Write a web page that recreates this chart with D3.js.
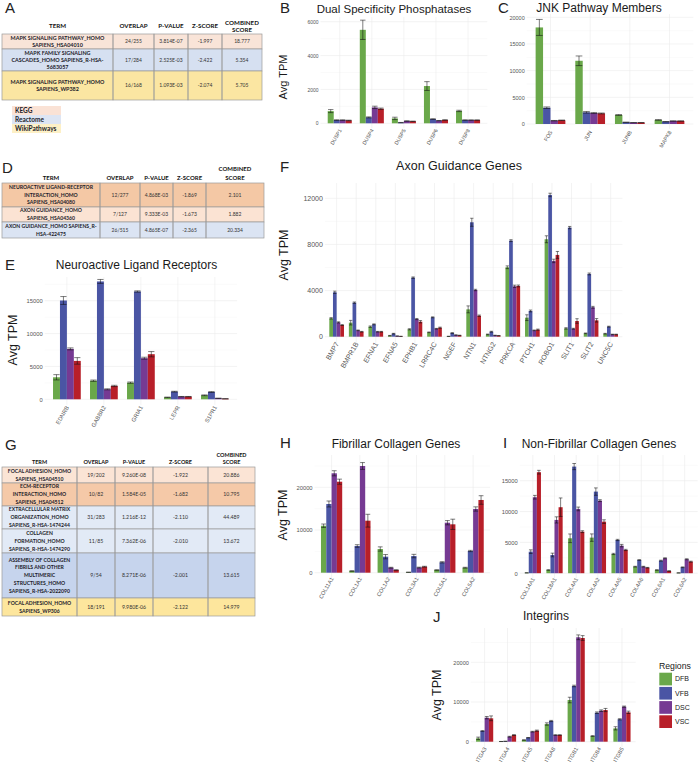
<!DOCTYPE html>
<html><head><meta charset="utf-8">
<script src="https://cdn.jsdelivr.net/npm/d3@7"></script>
<style>body{margin:0;background:#fff}svg{display:block}</style>
</head><body>
<svg id="c" width="699" height="764"></svg>
<script>
// ---------------- DATA ----------------
const regions = ["DFB", "VFB", "DSC", "VSC"];

// Table A
const tA_terms = [["MAPK SIGNALING PATHWAY_HOMO","SAPIENS_HSA04010"],["MAPK FAMILY SIGNALING","CASCADES_HOMO SAPIENS_R-HSA-","5683057"],["MAPK SIGNALING PATHWAY_HOMO","SAPIENS_WP382"]];
const tA_overlap = ["24/255","17/284","16/168"];
const tA_p = ["3.814E-07","2.525E-03","1.093E-03"];
const tA_z = ["-1.997","-2.422","-2.074"];
const tA_comb = ["18.777","5.354","5.705"];
const dbNames = ["KEGG","Reactome","WikiPathways"];

// Table D
const tD_terms = [["NEUROACTIVE LIGAND-RECEPTOR","INTERACTION_HOMO","SAPIENS_HSA04080"],["AXON GUIDANCE_HOMO","SAPIENS_HSA04360"],["AXON GUIDANCE_HOMO SAPIENS_R-","HSA-422475"]];
const tD_overlap = ["12/277","7/127","26/515"];
const tD_p = ["4.868E-03","9.333E-03","4.865E-07"];
const tD_z = ["-1.869","-1.673","-2.365"];
const tD_comb = ["2.101","1.882","20.334"];

// Table G
const tG_terms = [["FOCAL ADHESION_HOMO","SAPIENS_HSA04510"],["ECM-RECEPTOR","INTERACTION_HOMO","SAPIENS_HSA04512"],["EXTRACELLULAR MATRIX","ORGANIZATION_HOMO","SAPIENS_R-HSA-1474244"],["COLLAGEN","FORMATION_HOMO","SAPIENS_R-HSA-1474290"],["ASSEMBLY OF COLLAGEN","FIBRILS AND OTHER","MULTIMERIC","STRUCTURES_HOMO","SAPIENS_R-HSA-2022090"],["FOCAL ADHESION_HOMO","SAPIENS_WP306"]];
const tG_overlap = ["19/202","10/82","31/283","11/85","9/54","18/191"];
const tG_p = ["9.260E-08","1.584E-05","1.216E-12","7.362E-06","8.271E-06","9.980E-06"];
const tG_z = ["-1.922","-1.682","-2.110","-2.010","-2.001","-2.122"];
const tG_comb = ["20.886","10.795","44.489","13.672","13.615","14.979"];

// B: Dual Specificity Phosphatases
const duspGenes = ["DUSP1","DUSP4","DUSP5","DUSP6","DUSP8"];
const duspDFB = [720, 5520, 290, 2200, 730];
const duspVFB = [190, 350, 40, 250, 190];
const duspDSC = [190, 940, 135, 155, 190];
const duspVSC = [170, 860, 118, 195, 190];
const duspErr = [[90, 570, 70, 260, 40],[15, 30, 10, 20, 15],[15, 70, 10, 10, 10],[15, 40, 10, 15, 10]];

// C: JNK Pathway Members
const jnkGenes = ["FOS","JUN","JUNB","MAPK8"];
const jnkDFB = [18100, 11850, 1690, 760];
const jnkVFB = [3050, 2190, 320, 430];
const jnkDSC = [620, 2060, 250, 560];
const jnkVSC = [700, 1980, 250, 560];
const jnkErr = [[1500, 900, 80, 50],[150, 150, 20, 30],[40, 100, 15, 30],[40, 80, 15, 30]];

// E: Neuroactive Ligand Receptors
const neuroGenes = ["EDNRB","GABBR2","GRIA1","LEPR","S1PR1"];
const neuroDFB = [3350, 2830, 2530, 300, 610];
const neuroVFB = [15030, 17930, 16400, 1160, 1110];
const neuroDSC = [7670, 1520, 6250, 400, 150];
const neuroVSC = [5840, 2030, 6860, 400, 80];
const neuroErr = [[400, 100, 100, 40, 60],[600, 300, 100, 60, 60],[150, 80, 150, 30, 20],[500, 100, 400, 30, 15]];

// F: Axon Guidance Genes
const axonGenes = ["BMP7","BMPR1B","EFNA1","EFNA5","EPHB1","LRRC4C","NGEF","NTN1","NTNG2","PRKCA","PTCH1","ROBO1","SLIT1","SLIT2","UNC5C"];
const axonDFB = [1590, 1215, 870, 90, 640, 380, 30, 2370, 200, 6020, 1650, 8450, 720, 290, 260];
const axonVFB = [3850, 2950, 1070, 260, 5120, 1680, 320, 9920, 430, 8330, 2230, 12290, 9460, 5440, 870];
const axonDSC = [1240, 550, 430, 60, 1530, 690, 145, 4050, 115, 4370, 550, 6570, 690, 2550, 200];
const axonVSC = [1010, 430, 430, 30, 1300, 780, 115, 1820, 90, 4400, 610, 7090, 1360, 1420, 200];
const axonErr = [[60, 200, 60, 20, 50, 30, 10, 300, 30, 120, 250, 300, 60, 30, 30],
                 [100, 60, 40, 30, 60, 40, 30, 350, 40, 80, 80, 150, 100, 80, 40],
                 [50, 30, 30, 10, 50, 30, 15, 60, 15, 100, 30, 150, 40, 80, 20],
                 [40, 30, 30, 10, 100, 50, 15, 60, 15, 80, 50, 300, 200, 150, 20]];

// H: Fibrillar Collagen Genes
const fibGenes = ["COL11A1","COL1A1","COL1A2","COL3A1","COL5A1","COL5A2"];
const fibDFB = [11000, 400, 5550, 100, 630, 1170];
const fibVFB = [16090, 6250, 3750, 3900, 2430, 5080];
const fibDSC = [23280, 24990, 1170, 1200, 11710, 14920];
const fibVSC = [21310, 12180, 630, 1400, 11330, 17030];
const fibErr = [[400, 60, 500, 20, 60, 100],[700, 300, 500, 400, 150, 150],[600, 800, 100, 100, 500, 500],[600, 1500, 60, 100, 1200, 1000]];

// I: Non-Fibrillar Collagen Genes
const nfGenes = ["COL14A1","COL18A1","COL4A1","COL4A2","COL4A5","COL4A6","COL6A1","COL6A2"];
const nfDFB = [60, 520, 5660, 5770, 3120, 1060, 520, 50];
const nfVFB = [3490, 2950, 17290, 13230, 5390, 2140, 2030, 960];
const nfDSC = [12320, 8640, 10420, 11770, 4470, 1060, 2420, 2260];
const nfVSC = [16380, 10700, 6740, 8360, 3770, 890, 360, 1870];
const nfErr = [[10, 40, 700, 600, 100, 60, 40, 10],[300, 300, 500, 600, 100, 60, 80, 60],[300, 500, 300, 150, 200, 60, 80, 80],[300, 1500, 150, 300, 100, 50, 40, 80]];

// J: Integrins
const itgGenes = ["ITGA3","ITGA4","ITGA5","ITGA8","ITGB1","ITGB4","ITGB5"];
const itgDFB = [850, 50, 430, 4450, 10500, 1430, 3370];
const itgVFB = [2700, 100, 1000, 5210, 14030, 7300, 5640];
const itgDSC = [6050, 1260, 2520, 1680, 26300, 7810, 8820];
const itgVSC = [5890, 1680, 2770, 1680, 26120, 7980, 7400];
const itgErr = [[300, 10, 40, 300, 700, 100, 400],[100, 20, 60, 150, 200, 200, 150],[300, 100, 100, 80, 600, 200, 150],[600, 100, 150, 80, 600, 400, 300]];

// ---------------- STYLE / LAYOUT ----------------
const regionColors = ["#6aa84a", "#4a55a4", "#763a93", "#b81f29"];
const FONT = "'Liberation Sans', Arial, Helvetica, sans-serif";
const TFONT = "Lato, 'Open Sans', sans-serif";
const svg = d3.select("#c");
const color = d3.scaleOrdinal().domain(regions).range(regionColors);

function barPanel(p) {
  const g = svg.append("g");
  const x = d3.scalePoint().domain(p.genes).range([p.left, p.right]).padding(0.6);
  const step = x.step();
  const gw = step * 0.75;
  const sub = d3.scaleBand().domain(regions).range([-gw / 2, gw / 2]);
  const bw = sub.bandwidth();
  const y = d3.scaleLinear().domain([0, p.refVal]).range([p.zero, p.refPix]);
  const bottom = p.zero + (p.zero - p.top) * 0.045;
  const tstep = p.ticks[1] - p.ticks[0];
  const minor = [];
  for (let v = -tstep / 2; y(v) >= p.top; v += tstep) { if (y(v) <= bottom) minor.push(v); }
  g.selectAll(".mn").data(minor).join("line")
    .attr("x1", p.left).attr("x2", p.right).attr("y1", d => y(d)).attr("y2", d => y(d))
    .attr("stroke", "#f3f3f3").attr("stroke-width", 0.4);
  g.selectAll(".mj").data(p.ticks).join("line")
    .attr("x1", p.left).attr("x2", p.right).attr("y1", d => y(d)).attr("y2", d => y(d))
    .attr("stroke", "#ebebeb").attr("stroke-width", 0.6);
  g.selectAll(".vg").data(p.genes).join("line")
    .attr("x1", d => x(d)).attr("x2", d => x(d)).attr("y1", p.top).attr("y2", bottom)
    .attr("stroke", "#ebebeb").attr("stroke-width", 0.6);

  const series = p.series;
  const flat = [];
  p.genes.forEach((gn, i) => regions.forEach((r, k) => flat.push({ gn, r, v: series[k][i], e: p.err[k][i] })));
  g.selectAll(".bar").data(flat).join("rect")
    .attr("x", d => x(d.gn) + sub(d.r)).attr("width", bw)
    .attr("y", d => y(d.v)).attr("height", d => y(0) - y(d.v))
    .attr("fill", d => color(d.r));
  const cw = bw * 0.45;
  const eb = g.selectAll(".eb").data(flat).join("g")
    .attr("transform", d => `translate(${x(d.gn) + sub(d.r) + bw / 2},0)`)
    .attr("stroke", "#111").attr("stroke-width", 0.55).attr("fill", "none");
  eb.append("line").attr("x1", 0).attr("x2", 0).attr("y1", d => y(Math.max(0, d.v - d.e))).attr("y2", d => y(d.v + d.e));
  eb.append("line").attr("x1", -cw).attr("x2", cw).attr("y1", d => y(d.v + d.e)).attr("y2", d => y(d.v + d.e));
  eb.append("line").attr("x1", -cw).attr("x2", cw).attr("y1", d => y(Math.max(0, d.v - d.e))).attr("y2", d => y(Math.max(0, d.v - d.e)));

  const ya = d3.axisLeft(y).tickValues(p.ticks).tickSize(0).tickPadding(2).tickFormat(d3.format("d"));
  const yg = g.append("g").attr("transform", `translate(${p.left},0)`).call(ya);
  yg.select(".domain").remove();
  yg.selectAll("text").attr("font-size", p.tf).attr("fill", "#555").attr("font-family", FONT);

  const xa = d3.axisBottom(x).tickSize(0).tickPadding(0);
  const xg = g.append("g").attr("transform", `translate(0,${p.zero + p.xoff})`).call(xa);
  xg.select(".domain").remove();
  xg.selectAll("text").attr("x", 0).attr("y", 0).attr("dy", "0.35em").attr("text-anchor", "end")
    .attr("transform", "rotate(-60)").attr("font-size", p.xf).attr("fill", "#555").attr("font-family", FONT);

  g.append("text").attr("x", p.titleX).attr("y", p.titleY).attr("text-anchor", "middle")
    .attr("font-family", FONT).attr("font-size", p.titleSize).attr("fill", "#1a1a1a").text(p.title);
  if (p.ylab) {
    g.append("text").attr("transform", `translate(${p.ylab[0]},${p.ylab[1]}) rotate(-90)`)
      .attr("text-anchor", "middle").attr("dy", "0.35em").attr("font-family", FONT)
      .attr("font-size", p.ylab[2]).attr("fill", "#1a1a1a").text("Avg TPM");
  }
}

function letter(t, xx, yy) {
  svg.append("text").attr("x", xx).attr("y", yy).attr("font-family", FONT).attr("font-size", 15)
    .attr("fill", "#222").text(t);
}

function drawTable(c) {
  const g = svg.append("g");
  const cols = c.cols;
  const heads = [["TERM"], ["OVERLAP"], ["P-VALUE"], ["Z-SCORE"], ["COMBINED", "SCORE"]];
  heads.forEach((h, i) => {
    const cx = (cols[i] + cols[i + 1]) / 2;
    h.forEach((t, j) => {
      g.append("text").attr("x", cx).attr("y", h.length > 1 ? c.hy2[j] : c.hy).attr("dy", "0.35em")
        .attr("text-anchor", "middle").attr("font-family", TFONT).attr("font-weight", 700)
        .attr("font-size", c.hf).attr("fill", "#111").text(t);
    });
  });
  c.terms.forEach((lines, r) => {
    const y0 = c.rows[r], y1 = c.rows[r + 1];
    g.append("rect").attr("x", cols[0]).attr("y", y0).attr("width", cols[5] - cols[0]).attr("height", y1 - y0)
      .attr("fill", c.fills[r]);
    for (let k = 0; k < 5; k++) {
      g.append("rect").attr("x", cols[k]).attr("y", y0).attr("width", cols[k + 1] - cols[k]).attr("height", y1 - y0)
        .attr("fill", "none").attr("stroke", "#9a9a9a").attr("stroke-width", 0.7);
    }
    const cy = (y0 + y1) / 2, n = lines.length;
    lines.forEach((t, j) => {
      g.append("text").attr("x", (cols[0] + cols[1]) / 2).attr("y", cy + (j - (n - 1) / 2) * c.lh).attr("dy", "0.35em")
        .attr("text-anchor", "middle").attr("font-family", TFONT).attr("font-weight", 700)
        .attr("font-size", c.tf).attr("fill", "#1c1c2a").text(t);
    });
    [c.overlap, c.p, c.z, c.comb].forEach((arr, k) => {
      g.append("text").attr("x", (cols[k + 1] + cols[k + 2]) / 2).attr("y", cy).attr("dy", "0.35em")
        .attr("text-anchor", "middle").attr("font-family", TFONT).attr("font-size", c.vf)
        .attr("fill", "#333").text(arr[r]);
    });
  });
}

// ---------------- DRAW ----------------
drawTable({ cols: [2, 113, 154, 188, 222, 262], hy: 26, hy2: [23, 30], rows: [34, 49, 71, 100],
  terms: tA_terms, overlap: tA_overlap, p: tA_p, z: tA_z, comb: tA_comb,
  fills: ["#f9e4d8", "#d6e0f1", "#fbe6a2"], hf: 6.2, tf: 5.4, vf: 5, lh: 6.7 });
drawTable({ cols: [2, 100, 140, 173, 206, 264], hy: 178.3, hy2: [169, 178.3], rows: [183, 207, 222, 238],
  terms: tD_terms, overlap: tD_overlap, p: tD_p, z: tD_z, comb: tD_comb,
  fills: ["#f4c8a5", "#fbe3d3", "#dbe4f3"], hf: 6, tf: 5.1, vf: 5, lh: 7.6 });
drawTable({ cols: [2, 77, 115, 153, 208, 255], hy: 462.3, hy2: [455, 462.3], rows: [467, 483, 506, 529, 553, 598, 616],
  terms: tG_terms, overlap: tG_overlap, p: tG_p, z: tG_z, comb: tG_comb,
  fills: ["#fbe4d5", "#f5c9a8", "#e2eaf6", "#e2eaf6", "#c6d4ed", "#fde69d"], hf: 5.5, tf: 5.1, vf: 5.2, lh: 7.8 });

const dbFills = ["#fae2d5", "#dde5f3", "#fdf0c6"];
dbNames.forEach((nm, i) => {
  svg.append("rect").attr("x", 12).attr("y", 106 + i * 9).attr("width", 49).attr("height", 9).attr("fill", dbFills[i]);
  svg.append("text").attr("x", 15).attr("y", 110.5 + i * 9).attr("dy", "0.35em").attr("font-family", TFONT)
    .attr("font-weight", 700).attr("font-size", 6.5).attr("fill", "#1c1c2a").text(nm);
});

barPanel({ genes: duspGenes, series: [duspDFB, duspVFB, duspDSC, duspVSC], err: duspErr,
  left: 320.5, right: 487.3, top: 17, zero: 123.3, refVal: 6000, refPix: 21.7, ticks: [0, 2000, 4000, 6000],
  tf: 5, xf: 5.2, xoff: 6, title: "Dual Specificity Phosphatases", titleX: 394, titleY: 12.5, titleSize: 11.5, ylab: [283, 77, 11] });
barPanel({ genes: jnkGenes, series: [jnkDFB, jnkVFB, jnkDSC, jnkVSC], err: jnkErr,
  left: 526.7, right: 693.3, top: 14, zero: 124, refVal: 20000, refPix: 17.3, ticks: [0, 5000, 10000, 15000, 20000],
  tf: 5.5, xf: 5.5, xoff: 7, title: "JNK Pathway Members", titleX: 599, titleY: 12, titleSize: 12 });
barPanel({ genes: neuroGenes, series: [neuroDFB, neuroVFB, neuroDSC, neuroVSC], err: neuroErr,
  left: 44.7, right: 237.1, top: 277, zero: 399.3, refVal: 15000, refPix: 300.7, ticks: [0, 5000, 10000, 15000],
  tf: 5.8, xf: 5.8, xoff: 7, title: "Neuroactive Ligand Receptors", titleX: 136.5, titleY: 269, titleSize: 12, ylab: [12.5, 340, 12.5] });
barPanel({ genes: axonGenes, series: [axonDFB, axonVFB, axonDSC, axonVSC], err: axonErr,
  left: 324.9, right: 622.4, top: 183, zero: 336.7, refVal: 12000, refPix: 198.3, ticks: [0, 4000, 8000, 12000],
  tf: 7, xf: 7, xoff: 6, title: "Axon Guidance Genes", titleX: 459, titleY: 170, titleSize: 12.5, ylab: [284, 255, 12.5] });
barPanel({ genes: fibGenes, series: [fibDFB, fibVFB, fibDSC, fibVSC], err: fibErr,
  left: 314.6, right: 490.1, top: 455, zero: 572.7, refVal: 20000, refPix: 487.3, ticks: [0, 10000, 20000],
  tf: 5.8, xf: 5.5, xoff: 5, title: "Fibrillar Collagen Genes", titleX: 396, titleY: 448, titleSize: 12, ylab: [283, 515, 12.5] });
barPanel({ genes: nfGenes, series: [nfDFB, nfVFB, nfDSC, nfVSC], err: nfErr,
  left: 519.8, right: 697.7, top: 455, zero: 573.2, refVal: 15000, refPix: 480.7, ticks: [0, 5000, 10000, 15000],
  tf: 5.8, xf: 5.5, xoff: 5, title: "Non-Fibrillar Collagen Genes", titleX: 599, titleY: 448, titleSize: 12 });
barPanel({ genes: itgGenes, series: [itgDFB, itgVFB, itgDSC, itgVSC], err: itgErr,
  left: 470.9, right: 635.7, top: 628, zero: 741.7, refVal: 20000, refPix: 662.3, ticks: [0, 10000, 20000],
  tf: 5.6, xf: 5.5, xoff: 6, title: "Integrins", titleX: 546, titleY: 620, titleSize: 12, ylab: [437, 695, 12.5] });

svg.append("text").attr("x", 659).attr("y", 669).attr("font-family", FONT).attr("font-size", 8.7)
  .attr("fill", "#1a1a1a").text("Regions");
regions.forEach((r, i) => {
  svg.append("rect").attr("x", 659.3).attr("y", 672.7 + i * 14.2).attr("width", 12.7).attr("height", 12.7).attr("fill", color(r));
  svg.append("text").attr("x", 675).attr("y", 679 + i * 14.2).attr("dy", "0.35em").attr("font-family", FONT)
    .attr("font-size", 7).attr("fill", "#1a1a1a").text(r);
});

letter("A", 5, 13); letter("B", 280, 13); letter("C", 498, 13); letter("D", 2, 173);
letter("E", 5, 270); letter("F", 280, 172); letter("G", 5, 450); letter("H", 280, 448);
letter("I", 503, 448); letter("J", 433, 622);
</script>
</body></html>
